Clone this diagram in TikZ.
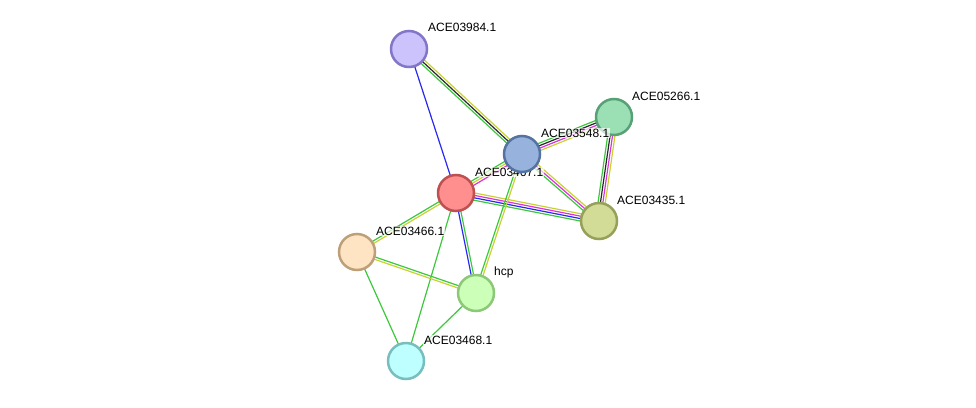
\documentclass[tikz,border=0pt]{standalone}
\usepackage{fontspec}
\setmainfont{Liberation Sans}
\usetikzlibrary{calc,backgrounds}
\definecolor{eg}{RGB}{60,200,60}
\definecolor{ey}{RGB}{200,210,50}
\definecolor{ek}{RGB}{40,40,40}
\definecolor{em}{RGB}{220,50,220}
\definecolor{eb}{RGB}{40,40,240}
\tikzset{
  prot/.style={circle, minimum size=36pt, inner sep=0pt, line width=2.5pt},
  lbl/.style={anchor=west, font=\fontsize{12}{14}\selectfont, inner sep=1pt, fill=white, fill opacity=0.7, text opacity=1},
  edgeline/.style={line width=1.2pt}
}
\newcommand{\medge}[4]{%
  \foreach \col [count=\i] in {#4}{%
    \pgfmathsetmacro{\off}{(\i-(#3+1)/2)*2.4}%
    \draw[edgeline, draw=\col] ($(#1.center)!\off pt!90:(#2.center)$) -- ($(#2.center)!\off pt!-90:(#1.center)$);
  }%
}
\begin{document}
\begin{tikzpicture}[x=1pt,y=-1pt]
\useasboundingbox (0,0) rectangle (976,407);
% nodes
\node[prot, fill={rgb,255:red,204;green,194;blue,252}, draw={rgb,255:red,130;green,118;blue,200}] (n3984) at (409,49) {};
\node[prot, fill={rgb,255:red,154;green,224;blue,180}, draw={rgb,255:red,88;green,160;blue,118}] (n5266) at (614,117) {};
\node[prot, fill={rgb,255:red,255;green,142;blue,142}, draw={rgb,255:red,190;green,80;blue,80}] (n467) at (456,193) {};
\node[lbl] (l467) at (474,172) {ACE03467.1};
\node[prot, fill={rgb,255:red,152;green,178;blue,222}, draw={rgb,255:red,85;green,115;blue,160}] (n548) at (522,154) {};
\node[prot, fill={rgb,255:red,210;green,220;blue,150}, draw={rgb,255:red,150;green,160;blue,90}] (n435) at (599,221) {};
\node[prot, fill={rgb,255:red,255;green,228;blue,196}, draw={rgb,255:red,190;green,160;blue,120}] (n466) at (357,252) {};
\node[prot, fill={rgb,255:red,204;green,255;blue,184}, draw={rgb,255:red,140;green,200;blue,120}] (hcp) at (476,293) {};
\node[prot, fill={rgb,255:red,190;green,255;blue,255}, draw={rgb,255:red,120;green,190;blue,190}] (n468) at (406,361) {};
% labels
\node[lbl] (l3984) at (427,27) {ACE03984.1};
\node[lbl] (l5266) at (631,96) {ACE05266.1};
\node[lbl] (l548) at (540,133) {ACE03548.1};
\node[lbl] (l435) at (616,200) {ACE03435.1};
\node[lbl] (l466) at (375,231) {ACE03466.1};
\node[lbl] (lhcp) at (493,272) {hcp};
\node[lbl] (l468) at (423,340) {ACE03468.1};
% edges
\begin{scope}[on background layer]
\medge{n3984}{n548}{3}{eg,ek,ey}
\medge{n3984}{n467}{1}{eb}
\medge{n548}{n5266}{4}{ey,em,ek,eg}
\medge{n5266}{n435}{4}{eg,ek,em,ey}
\medge{n467}{n548}{3}{em,ey,eg}
\medge{n548}{n435}{3}{eg,em,ey}
\medge{n467}{n435}{4}{eg,eb,em,ey}
\medge{n548}{hcp}{2}{eg,ey}
\medge{n467}{n466}{2}{eg,ey}
\medge{n467}{hcp}{2}{eb,eg}
\medge{n467}{n468}{1}{eg}
\medge{n466}{hcp}{2}{ey,eg}
\medge{n466}{n468}{1}{eg}
\medge{hcp}{n468}{1}{eg}
\end{scope}
\end{tikzpicture}
\end{document}
